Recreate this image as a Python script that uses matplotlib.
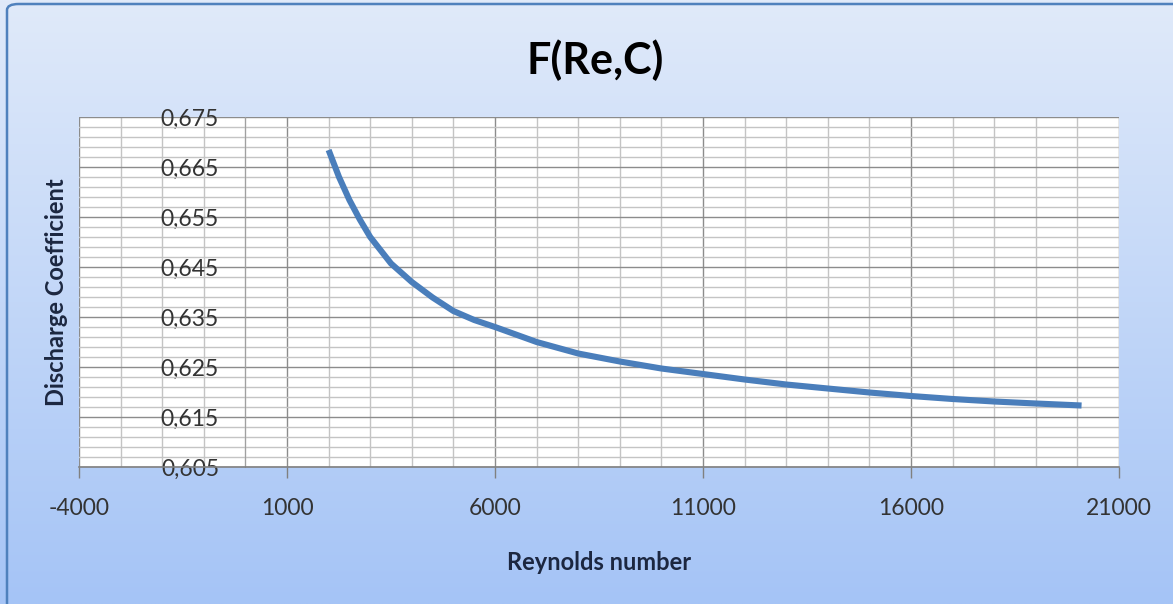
import numpy as np
import matplotlib
matplotlib.use("Agg")
import matplotlib.pyplot as plt
from matplotlib.ticker import MultipleLocator, FixedLocator, FuncFormatter
from matplotlib.patches import FancyBboxPatch

# Discharge coefficient vs Reynolds number
reynolds = [2000, 2250, 2500, 2750, 3000, 3500, 4000, 4500, 5000, 5500, 6000,
            7000, 8000, 9000, 10000, 11000, 12000, 13000, 14000, 15000, 16000,
            17000, 18000, 19000, 20100]
discharge = [0.6684, 0.6630, 0.6584, 0.6545, 0.6510, 0.6457, 0.6420, 0.6389,
             0.6362, 0.6344, 0.6330, 0.6300, 0.6277, 0.6261, 0.6247, 0.6236,
             0.6225, 0.6215, 0.6207, 0.6199, 0.6192, 0.6186, 0.6181, 0.6177,
             0.6173]

x_ticks = [-4000, 1000, 6000, 11000, 16000, 21000]
y_ticks = [0.605, 0.615, 0.625, 0.635, 0.645, 0.655, 0.665, 0.675]

title = "F(Re,C)"
x_label = "Reynolds number"
y_label = "Discharge Coefficient"

W, H, DPI = 1173, 604, 100
fig = plt.figure(figsize=(W / DPI, H / DPI), dpi=DPI)

# gradient chart-area background
bg = fig.add_axes([0, 0, 1, 1], zorder=0)
top = np.array([224, 234, 250]) / 255.0
bot = np.array([165, 196, 246]) / 255.0
t = np.linspace(0, 1, 256)[:, None, None]
grad = top * (1 - t) + bot * t
grad = np.repeat(grad, 4, axis=1)
bg.imshow(grad, aspect="auto", extent=[0, 1, 0, 1], origin="upper")
bg.set_xlim(0, 1)
bg.set_ylim(0, 1)
bg.axis("off")

# chart border
border = FancyBboxPatch((7 / W, -0.05), 1.05, 1.05 - 4 / H,
                        boxstyle="round,pad=0,rounding_size=0.01",
                        transform=fig.transFigure, facecolor="none",
                        edgecolor="#4f81bd", linewidth=1.8, zorder=1)
fig.patches.append(border)

left, right = 79 / W, 1119 / W
bottom, topp = 1 - 467 / H, 1 - 117 / H
ax = fig.add_axes([left, bottom, right - left, topp - bottom], zorder=2)
ax.set_facecolor("white")

ax.set_xlim(-4000, 21000)
ax.set_ylim(0.605, 0.675)

ax.xaxis.set_major_locator(FixedLocator(x_ticks))
ax.xaxis.set_minor_locator(MultipleLocator(1000))
ax.yaxis.set_major_locator(FixedLocator(y_ticks))
ax.yaxis.set_minor_locator(FixedLocator(np.round(np.arange(0.607, 0.675, 0.002), 3)))
ax.yaxis.set_major_formatter(FuncFormatter(lambda v, p: f"{v:.3f}".replace(".", ",")))
ax.xaxis.set_major_formatter(FuncFormatter(lambda v, p: f"{v:.0f}"))

ax.grid(which="major", axis="both", color="#8c8c8c", linewidth=1.0, zorder=0)
ax.grid(which="minor", axis="both", color="#c4c4c4", linewidth=1.0, zorder=0)
ax.set_axisbelow(True)

for s in ["top", "right"]:
    ax.spines[s].set_visible(False)
ax.spines["bottom"].set_color("#808080")
ax.spines["bottom"].set_linewidth(1.2)
ax.spines["left"].set_position(("data", 0))
ax.spines["left"].set_color("#a0a0a0")

font = "Lato"
ax.tick_params(axis="x", which="major", length=8, width=1, color="#808080",
               pad=14, labelsize=16.5, labelcolor="#333333")
ax.tick_params(axis="x", which="minor", length=0)
ax.tick_params(axis="y", which="both", length=0, pad=19, labelsize=16.5,
               labelcolor="#333333")
for lab in ax.get_xticklabels() + ax.get_yticklabels():
    lab.set_fontfamily(font)

ax.plot(reynolds, discharge, color="#4a7ebb", linewidth=4.4,
        solid_capstyle="butt", solid_joinstyle="round", zorder=3)

ax.set_xlabel(x_label, fontsize=17, fontweight="bold", family=font,
              color="#1c2740")
ax.xaxis.set_label_coords(0.5, -0.24)
ax.set_ylabel(y_label, fontsize=17, fontweight="bold", family=font,
              color="#1c2740")
ax.yaxis.set_label_coords(-0.0106, 0.5)

fig.text(595 / W, 1 - 60 / H, title, ha="center", va="center", fontsize=31,
         fontweight="bold", family=font, color="black", zorder=3)

fig.savefig("out.png", dpi=DPI)
